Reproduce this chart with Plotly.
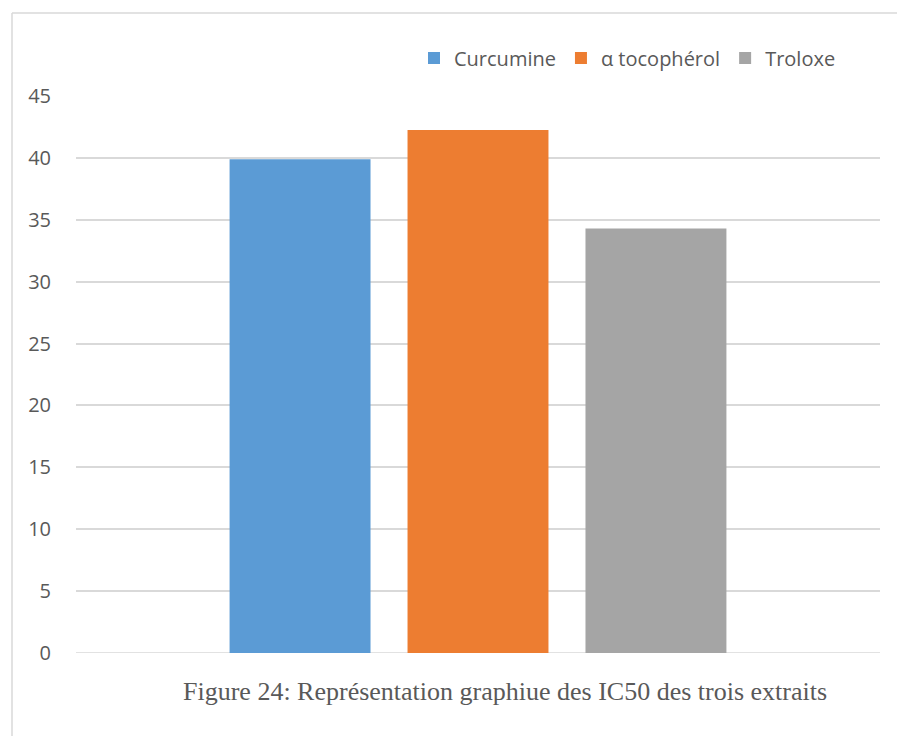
import plotly.graph_objects as go

# IC50 values for each extract
categories = ["IC50"]
series_names = ["Curcumine", "α tocophérol", "Troloxe"]
series_values = [[39.9], [42.25], [34.3]]
series_colors = ["#5B9BD5", "#ED7D31", "#A5A5A5"]
y_ticks = [0, 5, 10, 15, 20, 25, 30, 35, 40, 45]
caption = "Figure 24: Représentation graphiue des IC50 des trois extraits"

W, H = 897, 736
ML, MR, MT, MB = 76, 17, 96, 83
PW, PH = W - ML - MR, H - MT - MB

fig = go.Figure()
for name, vals, col in zip(series_names, series_values, series_colors):
    fig.add_trace(go.Bar(x=categories, y=vals, name=name, marker_color=col,
                         marker_line_width=0))


def px_x(px):
    return (px - ML) / PW


def px_y(py):
    return 1 + (MT - py) / PH


fig.update_layout(
    width=W, height=H,
    margin=dict(l=ML, r=MR, t=MT, b=MB),
    paper_bgcolor="white", plot_bgcolor="white",
    barmode="group", bargap=0.336, bargroupgap=0.208,
    font=dict(family="Open Sans, Lato, sans-serif", size=20, color="#595959"),
    showlegend=True,
    legend=dict(orientation="h", x=px_x(414), xanchor="left",
                y=px_y(58), yanchor="middle",
                font=dict(size=20, color="#595959"),
                itemwidth=30, tracegroupgap=0,
                bgcolor="rgba(0,0,0,0)"),
    xaxis=dict(showticklabels=False, showgrid=False, zeroline=False,
               showline=False, ticks=""),
    yaxis=dict(range=[0, 45], tickvals=y_ticks, showgrid=True,
               gridcolor="#D9D9D9", gridwidth=1.5, zeroline=False,
               showline=False, ticks="", ticklabelstandoff=24,
               tickfont=dict(size=20, color="#595959")),
    shapes=[
        # chart frame (top and left edges)
        dict(type="line", xref="paper", yref="paper",
             x0=px_x(12), x1=px_x(W + 5), y0=px_y(13), y1=px_y(13),
             line=dict(color="#D9D9D9", width=1.5)),
        dict(type="line", xref="paper", yref="paper",
             x0=px_x(12), x1=px_x(12), y0=px_y(13), y1=px_y(H + 5),
             line=dict(color="#D9D9D9", width=1.5)),
        # baseline at 0
        dict(type="line", xref="paper", yref="y",
             x0=0, x1=1, y0=0, y1=0,
             line=dict(color="#D9D9D9", width=1.5), layer="below"),
    ],
    annotations=[
        dict(text=caption, xref="paper", yref="paper",
             x=px_x(505), y=px_y(691), xanchor="center", yanchor="middle",
             showarrow=False,
             font=dict(family="Liberation Serif, Times New Roman, serif",
                       size=26, color="#595959")),
    ],
)

fig.write_html("out.html")
